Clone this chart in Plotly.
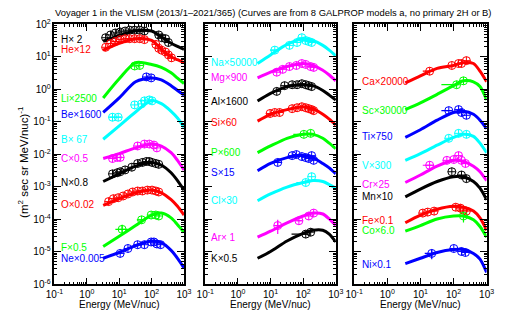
import plotly.graph_objects as go

FONT = "Liberation Sans"

# ---------------- model energy grids (MeV/nuc) ----------------
E1 = [3.2, 10, 32, 100, 200, 400, 630, 1000]
E2 = [4, 10, 32, 100, 200, 400, 630, 1000]
E3 = [3.5, 10, 32, 100, 200, 400, 630, 1000]

# ---------------- panel 1 ----------------
H_model = [30, 45, 63, 62, 41, 26, 21, 17]
H_E = [3.8, 5.4, 7.6, 10.7, 15.2, 21, 30, 43, 60, 166, 204, 270, 330]
H_J = [38.6, 47, 54, 58, 62, 66, 66, 66, 62, 47, 38.6, 36, 27.5]

He_model = [16, 26, 36, 32, 17, 10, 8.1, 6.6]
He_E = [3.8, 5.4, 7.6, 10.7, 15.2, 21, 30, 43, 60, 135, 166, 204, 270, 330, 410]
He_J = [19.6, 25.7, 29.5, 33.7, 36, 36, 36, 36, 33.7, 24, 18.2, 15.9, 14, 11.4, 9.3]

Li_model = [0.54, 2.1, 6.6, 5.8, 4.7, 3.2, 2.2, 1.5]
Li_E = [30, 43]
Li_J = [5.2, 5.4]

Be_model = [0.193, 0.54, 1.7, 2.24, 1.95, 1.29, 0.92, 0.66]
Be_E = [69, 97]
Be_J = [2.4, 2.24]

B_model = [0.029, 0.075, 0.2, 0.45, 0.36, 0.21, 0.13, 0.068]
B_E = [6.2, 9.3, 30, 49, 60, 85, 103]
B_J = [0.138, 0.138, 0.33, 0.355, 0.44, 0.47, 0.44]

C_model = [0.0074, 0.0105, 0.0157, 0.0206, 0.0179, 0.0112, 0.0065, 0.0033]
C_E = [6.2, 8.7, 10.7, 37, 60, 85, 118, 145]
C_J = [0.0074, 0.008, 0.008, 0.018, 0.0206, 0.0206, 0.0192, 0.0157]

N_model = [0.00145, 0.0025, 0.0043, 0.0056, 0.0046, 0.0027, 0.00155, 0.00079]
N_E = [6.2, 8.7, 10.7, 15.2, 24.5, 37, 52, 69, 85, 103, 135, 166]
N_J = [0.0025, 0.0027, 0.0029, 0.0033, 0.004, 0.0052, 0.0056, 0.006, 0.006, 0.0056, 0.0052, 0.0049]

O_model = [2.66e-4, 4.3e-4, 6.5e-4, 7.9e-4, 6.5e-4, 4.0e-4, 2.5e-4, 1.35e-4]
O_E = [4.7, 6.6, 9.3, 13.2, 18.6, 26, 37, 52, 74, 103, 135, 166]
O_J = [3.5e-4, 4.3e-4, 4.6e-4, 5.2e-4, 6.0e-4, 6.9e-4, 7.4e-4, 7.4e-4, 7.9e-4, 7.9e-4, 7.4e-4, 6.9e-4]

F_model = [1.45e-5, 3.0e-5, 6.4e-5, 1.35e-4, 1.55e-4, 1.1e-4, 6.8e-5, 4.0e-5]
F_E = [12.3, 49, 97, 135, 166]
F_J = [4.9e-5, 9.6e-5, 1.35e-4, 1.35e-4, 1.26e-4]

Ne_model = [6.3e-6, 9.5e-6, 1.55e-5, 2.15e-5, 1.9e-5, 1.1e-5, 6.3e-6, 3.2e-6]
Ne_E = [10.7, 18.6, 37, 60, 97, 118, 145, 190]
Ne_J = [8.9e-6, 1.26e-5, 1.65e-5, 1.65e-5, 2.0e-5, 2.0e-5, 1.74e-5, 1.65e-5]

# ---------------- panel 2 ----------------
Na_model = [6.2, 11.4, 24, 36, 31.6, 22.4, 16, 10.7]
Na_E = [13.5, 38, 65, 91, 120, 148, 182]
Na_J = [16, 22.4, 27.5, 38.6, 31.6, 29.5, 27.5]

Mg_model = [2.24, 3.35, 5.0, 6.2, 5.4, 3.85, 2.75, 1.82]
Mg_E = [15.5, 23.5, 38, 62, 91, 120, 170, 210]
Mg_J = [3.35, 4.1, 5.0, 5.4, 6.2, 5.8, 5.0, 4.7]

Al_model = [0.436, 0.75, 1.21, 1.38, 1.29, 0.92, 0.66, 0.47]
Al_E = [15.5, 27, 46, 65, 91, 120, 148, 182]
Al_J = [0.86, 1.29, 1.38, 1.38, 1.48, 1.38, 1.29, 1.21]

Si_model = [0.105, 0.17, 0.237, 0.29, 0.253, 0.17, 0.12, 0.079]
Si_E = [9.7, 13.5, 19, 46, 65, 91, 120, 148, 182, 210]
Si_J = [0.18, 0.193, 0.193, 0.253, 0.27, 0.29, 0.27, 0.253, 0.237, 0.22]

P_model = [0.0112, 0.018, 0.031, 0.041, 0.041, 0.031, 0.022, 0.0148]
P_E = [105, 170]
P_J = [0.041, 0.044]

S_model = [0.0031, 0.0052, 0.0079, 0.0091, 0.0079, 0.0052, 0.0038, 0.0025]
S_E = [16.6, 46, 62, 91, 120, 148, 182, 210]
S_J = [0.0056, 0.0091, 0.0098, 0.0085, 0.0079, 0.0074, 0.0091, 0.0065]

Cl_model = [3.7e-4, 6.0e-4, 9.8e-4, 1.35e-3, 1.55e-3, 1.45e-3, 1.17e-3, 9.1e-4]
Cl_E = [120, 182]
Cl_J = [1.35e-3, 2.04e-3]

Ar_model = [2.8e-5, 4.3e-5, 7.8e-5, 1.26e-4, 1.55e-4, 1.45e-4, 1.02e-4, 6.4e-5]
Ar_E = [16.6, 74, 148, 210]
Ar_J = [6.4e-5, 9.0e-5, 1.26e-4, 1.55e-4]

K_model = [6.3e-6, 1.02e-5, 2.15e-5, 3.7e-5, 4.6e-5, 4.6e-5, 3.5e-5, 2.0e-5]
K_E = [120, 170]
K_J = [3.5e-5, 4.0e-5]

# ---------------- panel 3 ----------------
Ca_model = [1.58, 2.6, 4.4, 5.4, 6.6, 6.2, 3.6, 1.7]
Ca_E = [19, 89, 142, 174, 245]
Ca_J = [3.6, 5.4, 6.2, 6.2, 7.6]

Sc_model = [0.237, 0.38, 0.70, 1.29, 1.82, 1.7, 1.21, 0.47]
Sc_E = [124, 200]
Sc_J = [1.38, 1.82]

Ti_model = [0.033, 0.057, 0.112, 0.193, 0.21, 0.17, 0.112, 0.061]
Ti_E = [72, 142, 174, 245]
Ti_J = [0.22, 0.237, 0.193, 0.158]

V_model = [0.0065, 0.0105, 0.019, 0.033, 0.041, 0.0355, 0.022, 0.0112]
V_E = [72, 142, 245]
V_J = [0.031, 0.044, 0.041]

Cr_model = [0.00135, 0.0023, 0.0043, 0.0065, 0.006, 0.0043, 0.0029, 0.00155]
Cr_E = [19, 63, 102, 142, 174, 229]
Cr_J = [0.0046, 0.0065, 0.0069, 0.0091, 0.0065, 0.0052]

Mn_model = [4.9e-4, 8.5e-4, 1.45e-3, 2.04e-3, 2.04e-3, 1.45e-3, 9.1e-4, 4.0e-4]
Mn_E = [89, 174, 245]
Mn_J = [0.0029, 0.0023, 0.00178]

Fe_model = [7.8e-5, 1.35e-4, 2.04e-4, 2.5e-4, 2.35e-4, 1.78e-4, 1.1e-4, 4.6e-5]
Fe_E = [11.8, 16.6, 26, 117, 162, 200, 245]
Fe_J = [1.55e-4, 1.66e-4, 1.78e-4, 2.35e-4, 2.2e-4, 1.9e-4, 1.78e-4]

Co_model = [4.3e-5, 6.4e-5, 1.02e-4, 1.26e-4, 1.26e-4, 9.6e-5, 6.0e-5, 2.8e-5]
Co_E = [200]
Co_J = [1.26e-4]

Ni_model = [4.3e-6, 6.3e-6, 9.5e-6, 1.17e-5, 1.17e-5, 8.9e-6, 5.9e-6, 2.3e-6]
Ni_E = [22, 102, 174, 229]
Ni_J = [8.9e-6, 1.26e-5, 1.02e-5, 9.5e-6]

# ---------------- error bars (E, J, E_low, E_high, J_low, J_high) ----------------
B_err = [(6.2, 0.138, 5.0, 7.6, 0.138, 0.138), (9.3, 0.138, 7.6, 11.5, 0.138, 0.138)]
F_err = [(12.3, 4.9e-5, 7.6, 18.6, 3.5e-5, 6.8e-5), (49, 9.6e-5, 35, 60, 9.6e-5, 9.6e-5)]
Na_err = [(13.5, 16, 9.7, 19, 16, 16)]
P_err = [(105, 0.041, 50, 120, 0.041, 0.041)]
S_err = [(16.6, 0.0056, 13.5, 22, 0.0056, 0.0056)]
Cl_err = [(120, 1.35e-3, 62, 148, 1.35e-3, 1.35e-3)]
Ar_err = [(16.6, 6.4e-5, 13.5, 23.5, 3.5e-5, 9.6e-5), (74, 9.0e-5, 62, 91, 9.0e-5, 9.0e-5)]
K_err = [(120, 3.5e-5, 44, 148, 3.5e-5, 3.5e-5)]
Ca_err = [(19, 3.6, 11.8, 26, 3.6, 3.6)]
Sc_err = [(124, 1.38, 43, 142, 1.38, 1.38)]
Ti_err = [(72, 0.22, 43, 89, 0.22, 0.22)]
Cr_err = [(19, 0.0046, 11.8, 26, 0.0046, 0.0046)]
Ni_err = [(22, 8.9e-6, 13.5, 30, 5.9e-6, 1.17e-5)]
Co_err = [(200, 1.26e-4, 180, 220, 8.0e-5, 1.55e-4)]

# label texts
labels1 = ["H\u00d7 2", "He\u00d712", "Li\u00d72500", "Be\u00d71600", "B\u00d7 67",
           "C\u00d70.5", "N\u00d70.8", "O\u00d70.02", "F\u00d70.5", "Ne\u00d70.005"]
labels2 = ["Na\u00d750000", "Mg\u00d7900", "Al\u00d71600", "Si\u00d760", "P\u00d7600",
           "S\u00d715", "Cl\u00d730", "Ar\u00d7 1", "K\u00d70.5"]
labels3 = ["Ca\u00d720000", "Sc\u00d730000", "Ti\u00d7750", "V\u00d7300", "Cr\u00d725",
           "Mn\u00d710", "Fe\u00d70.1", "Co\u00d76.0", "Ni\u00d70.1"]

# ---------------- styling / layout (positions in pixels) ----------------
BLK, RED, GRN, BLU, CYN, MAG = "#000000", "#ff0000", "#00ff00", "#0000ff", "#00ffff", "#ff00ff"
W, H = 513, 320

panel1 = [(H_model, H_E, H_J, BLK, 34, None), (He_model, He_E, He_J, RED, 44, None),
          (Li_model, Li_E, Li_J, GRN, 95, None), (Be_model, Be_E, Be_J, BLU, 112, None),
          (B_model, B_E, B_J, CYN, 138, B_err), (C_model, C_E, C_J, MAG, 158, None),
          (N_model, N_E, N_J, BLK, 183, None), (O_model, O_E, O_J, RED, 206, None),
          (F_model, F_E, F_J, GRN, 251, F_err), (Ne_model, Ne_E, Ne_J, BLU, 262, None)]
panel2 = [(Na_model, Na_E, Na_J, CYN, 58, Na_err), (Mg_model, Mg_E, Mg_J, MAG, 73, None),
          (Al_model, Al_E, Al_J, BLK, 98, None), (Si_model, Si_E, Si_J, RED, 120, None),
          (P_model, P_E, P_J, GRN, 152, P_err), (S_model, S_E, S_J, BLU, 172, S_err),
          (Cl_model, Cl_E, Cl_J, CYN, 202, Cl_err), (Ar_model, Ar_E, Ar_J, MAG, 240, Ar_err),
          (K_model, K_E, K_J, BLK, 262, K_err)]
panel3 = [(Ca_model, Ca_E, Ca_J, RED, 78, Ca_err), (Sc_model, Sc_E, Sc_J, GRN, 108, Sc_err),
          (Ti_model, Ti_E, Ti_J, BLU, 135, Ti_err), (V_model, V_E, V_J, CYN, 165, None),
          (Cr_model, Cr_E, Cr_J, MAG, 185, Cr_err), (Mn_model, Mn_E, Mn_J, BLK, 198, None),
          (Fe_model, Fe_E, Fe_J, RED, 223, None), (Co_model, Co_E, Co_J, GRN, 233, Co_err),
          (Ni_model, Ni_E, Ni_J, BLU, 268, Ni_err)]

panels = [(panel1, labels1, E1, "x", "y", 52, (47, 181)),
          (panel2, labels2, E2, "x2", "y2", 207, (203, 338)),
          (panel3, labels3, E3, "x3", "y3", 363, (357, 494))]

fig = go.Figure()
annotations = []
for pdata, plabels, Egrid, xa, ya, lab_x, (x0, x1) in panels:
    for (model, dE, dJ, col, ly, err), txt in zip(pdata, plabels):
        fig.add_trace(go.Scatter(x=Egrid, y=model, mode="lines", xaxis=xa, yaxis=ya,
                                 line=dict(color=col, width=3, shape="spline", smoothing=0.8),
                                 showlegend=False, hoverinfo="skip"))
        if err:
            ex = [e[0] for e in err]
            ey = [e[1] for e in err]
            fig.add_trace(go.Scatter(
                x=ex, y=ey, mode="markers", xaxis=xa, yaxis=ya,
                marker=dict(size=1, color=col, opacity=0),
                error_x=dict(type="data", symmetric=False,
                             array=[e[3] - e[0] for e in err],
                             arrayminus=[e[0] - e[2] for e in err],
                             color=col, thickness=1.2, width=0),
                error_y=dict(type="data", symmetric=False,
                             array=[e[5] - e[1] for e in err],
                             arrayminus=[e[1] - e[4] for e in err],
                             color=col, thickness=1.2, width=0),
                showlegend=False, hoverinfo="skip"))
        fig.add_trace(go.Scatter(x=dE, y=dJ, mode="markers", xaxis=xa, yaxis=ya,
                                 marker=dict(symbol="circle-cross-open", size=8,
                                             color=col, line=dict(width=1, color=col)),
                                 showlegend=False, hoverinfo="skip"))
        annotations.append(dict(x=lab_x / W, y=1 - ly / H, xref="paper", yref="paper",
                                text=txt, showarrow=False, xanchor="left", yanchor="middle",
                                font=dict(family=FONT, size=10, color=col)))
    annotations.append(dict(x=(x0 + x1) / 2 / W, y=1 - 310 / H, xref="paper", yref="paper",
                            text="Energy (MeV/nuc)", showarrow=False,
                            xanchor="center", yanchor="middle",
                            font=dict(family=FONT, size=10, color="black")))

annotations.append(dict(x=46 / W, y=1 - 6 / H, xref="paper", yref="paper",
                        text="Voyager 1 in the VLISM (2013/1\u20132021/365) (Curves are from 8 GALPROP models a, no primary 2H or B)",
                        showarrow=False, xanchor="left", yanchor="middle",
                        font=dict(family=FONT, size=9.4, color="black")))
annotations.append(dict(x=15 / W, y=1 - 162 / H, xref="paper", yref="paper",
                        text="(m<sup>2</sup> sec sr MeV/nuc)<sup>-1</sup>", textangle=-90,
                        showarrow=False, xanchor="center", yanchor="middle",
                        font=dict(family=FONT, size=11.5, color="black")))

xt_vals = [0.1, 1, 10, 100, 1000]
xt_text = ["10<sup>-1</sup>", "10<sup>0</sup>", "10<sup>1</sup>", "10<sup>2</sup>", "10<sup>3</sup>"]
yt_vals = [1e-6, 1e-5, 1e-4, 1e-3, 1e-2, 1e-1, 1, 10, 100]
yt_text = ["10<sup>-%d</sup>" % k for k in range(6, 0, -1)] + ["10<sup>0</sup>", "10<sup>1</sup>", "10<sup>2</sup>"]
x_minor = [m * 10.0 ** d for d in range(-1, 3) for m in range(2, 10)]
y_minor = [m * 10.0 ** d for d in range(-6, 2) for m in range(2, 10)]

ydom = [1 - 289 / H, 1 - 18 / H]
common = dict(type="log", showline=True, linecolor="black", linewidth=1.5, mirror="allticks",
              ticks="inside", ticklen=7, tickwidth=1, tickcolor="black",
              showgrid=False, zeroline=False,
              tickfont=dict(family=FONT, size=10, color="black"))

layout = dict(width=W, height=H, margin=dict(l=0, r=0, t=0, b=0),
              paper_bgcolor="white", plot_bgcolor="white",
              annotations=annotations, showlegend=False)
for i, (pdata, plabels, Egrid, xa, ya, lab_x, (x0, x1)) in enumerate(panels):
    sfx = "" if i == 0 else str(i + 1)
    layout["xaxis" + sfx] = dict(common, range=[-1, 3], domain=[x0 / W, x1 / W],
                                 anchor="y" + sfx, tickvals=xt_vals, ticktext=xt_text,
                                 minor=dict(ticks="inside", ticklen=3, tickvals=x_minor,
                                            tickcolor="black", showgrid=False))
    layout["yaxis" + sfx] = dict(common, range=[-6, 2], domain=ydom,
                                 anchor="x" + sfx, tickvals=yt_vals, ticktext=yt_text,
                                 showticklabels=(i == 0),
                                 minor=dict(ticks="inside", ticklen=3, tickvals=y_minor,
                                            tickcolor="black", showgrid=False))
fig.update_layout(**layout)
fig.write_html("out.html")
